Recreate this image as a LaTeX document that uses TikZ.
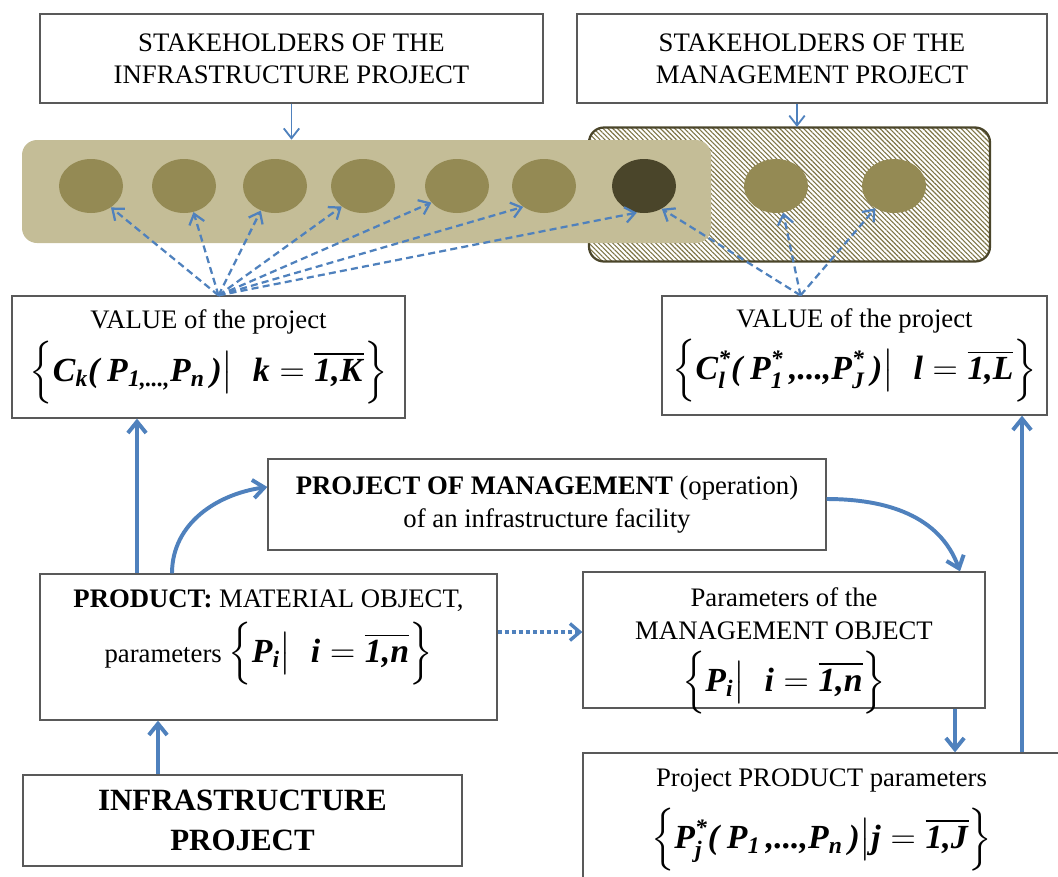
\documentclass[tikz,border=0pt]{standalone}
\usepackage{amsmath}
\usepackage{fontspec}
\setmainfont{Liberation Serif}
\usetikzlibrary{shapes.geometric,patterns.meta,arrows.meta}

\definecolor{tanband}{HTML}{C4BD97}
\definecolor{olivebl}{HTML}{948A54}
\definecolor{darkol}{HTML}{4A452A}
\definecolor{arrblue}{HTML}{4F81BD}

\newlength\pxu
\setlength\pxu{0.025cm}
\newcommand{\bfit}[1]{\textbf{\textit{#1}}}
\newcommand{\fml}{\fontsize{24}{28}\selectfont}

\begin{document}
\begin{tikzpicture}[x=0.025cm,y=-0.025cm,
    box/.style={draw=black!65, line width=0.9pt, fill=white, align=center, inner sep=0pt,
                font=\fontsize{19}{23}\selectfont},
    blob/.style={ellipse, inner sep=0pt, minimum width=64\pxu, minimum height=54\pxu, fill=olivebl},
    fat/.style={arrblue, line width=2.8pt, -{Straight Barb[length=8pt,width=13pt]}},
    thinarr/.style={arrblue, line width=1.3pt, -{Straight Barb[length=7pt,width=11pt]}},
    dasharr/.style={arrblue, line width=1.6pt, dash pattern=on 5pt off 3pt, -{Straight Barb[length=7pt,width=11pt]}},
    dotarr/.style={arrblue, line width=2.4pt, dash pattern=on 3pt off 2pt, -{Straight Barb[length=7pt,width=12pt]}}]
    \useasboundingbox (0,0) rectangle (1058,876);
    \clip (0,0) rectangle (1058,876);

    % stakeholders
    \node[box, minimum width=503\pxu, minimum height=89\pxu] (sh1) at (291.5,58.5) {STAKEHOLDERS OF THE\\INFRASTRUCTURE PROJECT};
    \node[box, minimum width=470\pxu, minimum height=89\pxu] (sh2) at (812,58.5) {STAKEHOLDERS OF THE\\MANAGEMENT PROJECT};

    % bands with the stakeholders
    \node[rounded corners=15\pxu, draw=darkol, line width=1.6pt, pattern={Lines[angle=-45,distance=2.4pt,line width=0.8pt]},
          pattern color=olivebl!85!black, minimum width=401\pxu, minimum height=134\pxu] (bandR) at (789.5,194.5) {};
    \node[rounded corners=15\pxu, fill=tanband, minimum width=689\pxu, minimum height=103\pxu] (bandL) at (366.5,191.5) {};
    \foreach \x/\c [count=\i] in {91/olivebl,184/olivebl,275/olivebl,363/olivebl,457/olivebl,544/olivebl,644/darkol,776/olivebl,894/olivebl}
        \node[blob, fill=\c] (e\i) at (\x,186) {};

    \draw[thinarr] (sh1.south) -- (sh1.south |- bandL.north);
    \coordinate (s2) at ([xshift=-15\pxu]sh2.south);
    \draw[thinarr] (s2) -- (s2 |- bandR.north);

    % values
    \node[box, minimum width=393\pxu, minimum height=122\pxu] (valL) at (208.5,357)
        {VALUE of the project\\[5\pxu]{\fml$\Big\{\bfit{C}_{\bfit{k}}\bfit{(}\,\bfit{P}_{\bfit{1,...,}}\bfit{P}_{\bfit{n}}\,\bfit{)}\big|\;\;\bfit{k}=\overline{\bfit{1,K}}\Big\}$}};
    \node[box, minimum width=385\pxu, minimum height=119\pxu] (valR) at (854.5,355.5)
        {VALUE of the project\\[5\pxu]{\fml$\Big\{\bfit{C}^{\bfit{*}}_{\bfit{l}}\bfit{(}\,\bfit{P}^{\bfit{*}}_{\bfit{1}}\bfit{\,,...,}\bfit{P}^{\bfit{*}}_{\bfit{J}}\,\bfit{)}\big|\;\;\bfit{l}=\overline{\bfit{1,L}}\Big\}$}};

    \coordinate (srcL) at ([xshift=10\pxu]valL.north);
    \coordinate (srcR) at ([xshift=-54\pxu]valR.north);
    \foreach \i/\a in {1/-47,2/-70,3/-120,4/-136,5/-147,6/-135,7/-105}
        \draw[dasharr] (srcL) -- (e\i.\a);
    \foreach \i/\a in {7/-52,8/-75,9/-130}
        \draw[dasharr] (srcR) -- (e\i.\a);

    % middle part
    \node[box, minimum width=558\pxu, minimum height=91\pxu] (mgmt) at (547,504.5)
        {\textbf{PROJECT OF MANAGEMENT} (operation)\\of an infrastructure facility};
    \node[box] (prod) at (268.5,647)
        {\parbox[c][146\pxu][t]{457\pxu}{\centering\vspace*{16\pxu}\textbf{PRODUCT:} MATERIAL OBJECT,\\[9\pxu]
         parameters {\fml$\Big\{\bfit{P}_{\bfit{i}}\big|\;\;\bfit{i}=\overline{\bfit{1,n}}\Big\}$}}};
    \node[box] (parm) at (784,640)
        {\parbox[c][136\pxu][t]{402\pxu}{\centering\vspace*{16\pxu}Parameters of the\\MANAGEMENT OBJECT\\[10\pxu]
         {\fml$\Big\{\bfit{P}_{\bfit{i}}\big|\;\;\bfit{i}=\overline{\bfit{1,n}}\Big\}$}}};

    % bottom
    \node[box, font=\fontsize{22}{28}\selectfont\bfseries, minimum width=439\pxu, minimum height=91\pxu] (infra) at (242.5,820.5)
        {INFRASTRUCTURE\\PROJECT};
    \node[box] (ppp) at (821.5,826.5)
        {\parbox[c][147\pxu][t]{477\pxu}{\centering\vspace*{16\pxu}Project PRODUCT parameters\\[14\pxu]
         {\fml$\Big\{\bfit{P}^{\bfit{*}}_{\bfit{j}}\bfit{(}\,\bfit{P}_{\bfit{1}}\bfit{\,,...,}\bfit{P}_{\bfit{n}}\,\bfit{)}\big|\bfit{j}=\overline{\bfit{1,J}}\Big\}$}}};

    % connections
    \coordinate (a1) at ([xshift=-131.5\pxu]prod.north);
    \draw[fat] (a1) -- (a1 |- valL.south);
    \draw[fat] ([xshift=-96.5\pxu]prod.north) to[out=90,in=188] ([yshift=17.5\pxu]mgmt.west);
    \draw[fat] ([yshift=5.5\pxu]mgmt.east) to[out=0,in=110] ([xshift=176\pxu]parm.north);
    \coordinate (a2) at ([yshift=15\pxu]prod.east);
    \draw[dotarr] (a2) -- (a2 -| parm.west);
    \coordinate (a3) at ([xshift=-84.5\pxu]infra.north);
    \draw[fat] (a3) -- (a3 |- prod.south);
    \coordinate (a4) at ([xshift=171\pxu]parm.south);
    \draw[fat] (a4) -- (a4 |- ppp.north);
    \coordinate (a5) at ([xshift=200.5\pxu]ppp.north);
    \draw[fat] (a5) -- (a5 |- valR.south);
\end{tikzpicture}
\end{document}
